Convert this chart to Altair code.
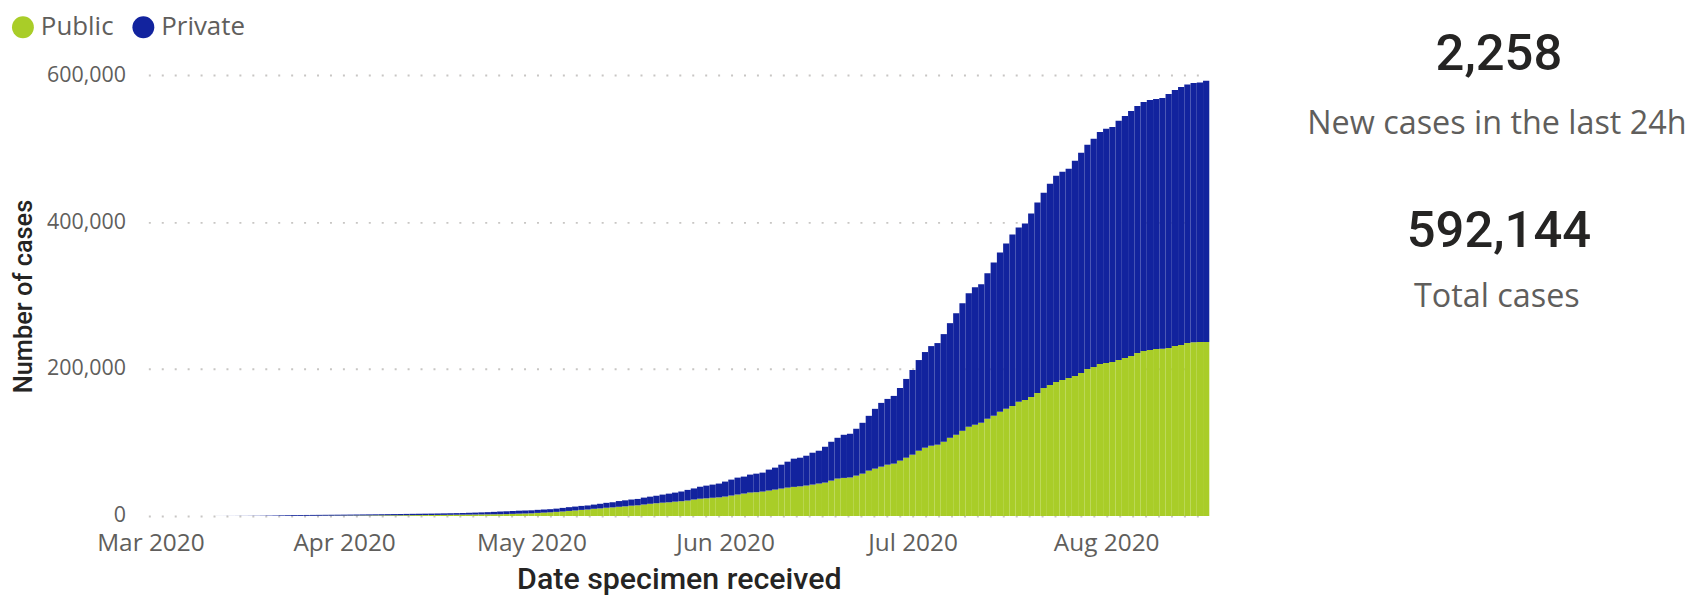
import altair as alt
import pandas as pd

# ---------------- data ----------------
start_date = "2020-03-04"
end_date = "2020-08-17"

public_cases = [
    0, 0, 0, 0, 0, 0, 0, 0,
    1, 1, 2, 3, 5, 8, 12, 18, 25, 35, 45, 60, 80,
    150, 200, 250, 300, 350, 400, 450,
    500, 560, 620, 680, 740, 800, 860, 920,
    980, 1040, 1100, 1160, 1220, 1280, 1340, 1420, 1500, 1600, 1700,
    1800, 1900, 2000, 2100, 2200, 2300,
    2400, 2600, 2900, 3200, 3400, 3600,
    4200, 4600, 5000, 5600, 6100, 6900, 7500, 8300, 8800,
    9800, 10300, 11200, 11700, 12500, 13100, 14000, 14500, 15600, 16600,
    17200, 18100, 18600, 19500, 20100, 21000, 22400, 23500, 24000, 24800, 25300, 26400,
    27800, 29200, 30500, 31900, 32300, 33200, 34600, 35900, 37300, 38600,
    39600, 40300, 41400, 42700, 44100, 45400, 48100, 50900, 51800, 52400,
    54900, 57600, 61700, 64400, 67100, 69800, 71200, 75300, 79300, 83400,
    88800, 92900, 95600, 97000, 101000, 106400, 110500, 115900, 121400, 124100,
    126800, 132200, 136300, 141700, 145800, 149800, 155300, 158000, 162000, 167500,
    174200, 178300, 182400, 185100, 187800, 190500, 194600, 200000, 202700, 206800,
    208100, 209500, 212200, 214900, 217600, 221700, 224400, 225800, 227100, 227500,
    228500, 231200, 232600, 235300, 236300, 236600, 236900,
]

private_cases = [
    1, 2, 3, 7, 13, 17, 24, 38, 54, 69, 93, 127, 165, 222, 278, 362, 495, 645, 825, 990, 1120,
    1160, 1190, 1210, 1230, 1250, 1270, 1290,
    1320, 1350, 1380, 1410, 1440, 1470, 1510, 1560,
    1620, 1680, 1730, 1780, 1830, 1880, 1930, 1990, 2060, 2130, 2200,
    2300, 2450, 2600, 2800, 3000, 3300,
    3700, 3800, 3900, 4000, 4050, 4100,
    4150, 4200, 4250, 4400, 4900, 5100, 5300, 5400, 5500,
    5700, 6300, 6700, 7000, 7800, 8200, 8400, 8700, 9400, 9700,
    10500, 11000, 11800, 12300, 13200, 14500, 15100, 16300, 17300, 17900, 18800, 20400,
    21700, 23000, 23100, 24400, 25300, 25800, 28500, 29900, 32500, 35300,
    38400, 39000, 40600, 43400, 44700, 48800, 52900, 55500, 58700, 59500,
    63800, 69200, 74600, 81400, 86800, 89500, 92200, 98900, 107200, 115300,
    123400, 130200, 135600, 138300, 146500, 156000, 165400, 173600, 181700, 187100,
    188500, 198000, 208800, 217000, 225100, 233300, 237300, 240000, 249500, 259000,
    265800, 273900, 280700, 283400, 284800, 292900, 299700, 305100, 310600, 315900,
    318700, 320000, 325500, 329500, 333600, 336300, 339000, 340300, 340400, 341300,
    345800, 348500, 351200, 351900, 353000, 353286, 355244,
]

series_names = ["Public", "Private"]
series_colors = ["#A9CD28", "#12239E"]

new_cases_24h = 2258
total_cases = 592144
kpi_new_label = "New cases in the last 24h"
kpi_total_label = "Total cases"

y_ticks = [0, 200000, 400000, 600000]
month_ticks = [3, 4, 5, 6, 7, 8]

# ---------------- table ----------------
dates = pd.date_range(start_date, end_date, freq="D")
rows = []
for d, pub, pri in zip(dates, public_cases, private_cases):
    s = (d - pd.Timedelta(hours=12)).strftime("%Y-%m-%dT%H:%M:%S")
    e = (d + pd.Timedelta(hours=12)).strftime("%Y-%m-%dT%H:%M:%S")
    for k, (name, v) in enumerate(zip(series_names, [pub, pri])):
        rows.append({"start": s, "end": e, "series": name, "ord": k, "cases": v})
df = pd.DataFrame(rows)

W, H = 1066, 443
LABEL_GREY = "#605E5C"
DARK = "#252423"

x_axis = alt.Axis(
    values=[alt.DateTime(year=2020, month=m, date=1) for m in month_ticks],
    format="%b %Y",
    labelFont="Open Sans",
    labelFontSize=24.5,
    labelColor=LABEL_GREY,
    labelBaseline="alphabetic",
    labelPadding=35,
    ticks=False,
    tickSize=0,
    domain=False,
    grid=False,
    labelFlush=False,
    labelOverlap=False,
    title="Date specimen received",
    titleFont="Roboto",
    titleFontSize=30.5,
    titleFontWeight=500,
    titleColor=DARK,
    titleBaseline="alphabetic",
    titleAnchor="middle",
    titleX=W / 2,
    titleY=73,
)

y_axis = alt.Axis(
    values=y_ticks,
    format=",.0f",
    labelFont="Open Sans",
    labelFontSize=21.5,
    labelColor=LABEL_GREY,
    labelBaseline="middle",
    labelPadding=23,
    ticks=False,
    tickSize=0,
    domain=False,
    grid=True,
    gridColor="#C8C6C4",
    gridDash=[2, 11],
    gridWidth=2,
    title="Number of cases",
    titleFont="Roboto",
    titleFontSize=25.5,
    titleFontWeight=500,
    titleColor=DARK,
    titleAngle=270,
    titleBaseline="alphabetic",
    titleAlign="center",
    titleX=-117,
    titleY=H / 2 + 0.5,
)

bars = alt.Chart(df).transform_stack(
    stack="cases",
    groupby=["start"],
    as_=["y0", "y1"],
    sort=[alt.SortField("ord", order="ascending")],
).mark_bar(strokeWidth=0).encode(
    x=alt.X(
        "start:T",
        scale=alt.Scale(
            domain=[
                alt.DateTime(year=2020, month=2, date=29, hours=16),
                alt.DateTime(year=2020, month=8, date=17, hours=12),
            ]
        ),
        axis=x_axis,
    ),
    x2="end:T",
    y=alt.Y(
        "y0:Q",
        scale=alt.Scale(domain=[0, 600000], nice=False),
        axis=y_axis,
    ),
    y2="y1:Q",
    color=alt.Color(
        "series:N",
        scale=alt.Scale(domain=series_names, range=series_colors),
        legend=alt.Legend(
            title=None,
            orient="none",
            legendX=-139,
            legendY=-61,
            direction="horizontal",
            symbolType="circle",
            symbolSize=484,
            symbolStrokeWidth=0,
            symbolOpacity=1,
            labelFont="Open Sans",
            labelFontSize=26,
            labelColor=LABEL_GREY,
            labelOffset=5,
            columnPadding=16,
            padding=0,
        ),
    ),
)


def kpi(text, x, y, size, color, font, weight):
    return alt.Chart(alt.Data(values=[{"t": text}])).mark_text(
        align="center",
        baseline="alphabetic",
        font=font,
        fontSize=size,
        fontWeight=weight,
        color=color,
    ).encode(x=alt.value(x), y=alt.value(y), text="t:N")


kx = 1355
layers = [
    bars,
    kpi(f"{new_cases_24h:,}", kx + 2, -5, 51, DARK, "Roboto", 500),
    kpi(kpi_new_label, kx, 59, 32.5, LABEL_GREY, "Open Sans", 400),
    kpi(f"{total_cases:,}", kx + 2, 173, 51, DARK, "Roboto", 500),
    kpi(kpi_total_label, kx, 233, 32.5, LABEL_GREY, "Open Sans", 400),
]

chart = alt.layer(*layers).properties(
    width=W,
    height=H,
    padding={"left": 141, "top": 66, "right": 483, "bottom": 79},
    autosize=alt.AutoSizeParams(type="none"),
    background="white",
).configure_view(stroke=None)

chart.save("out.html", embed_options={"renderer": "svg", "actions": False})
